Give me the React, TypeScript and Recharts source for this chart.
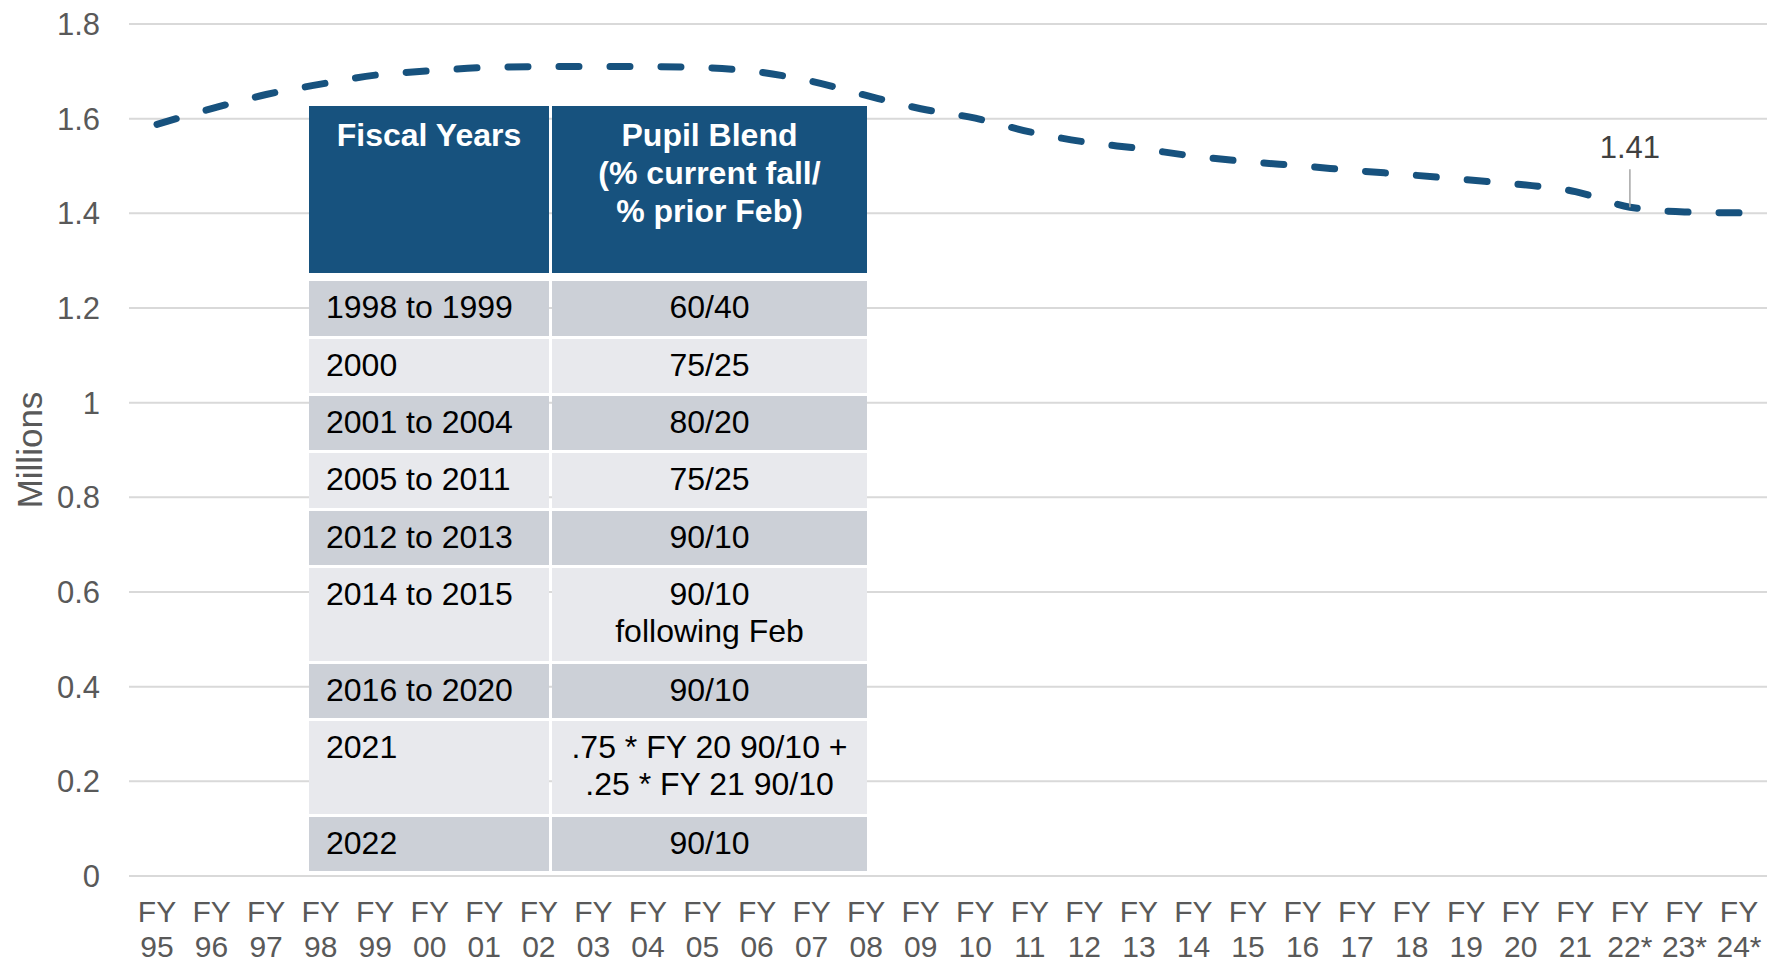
import { LineChart, Line, XAxis, YAxis, CartesianGrid, LabelList } from "recharts";

// fiscal years on the category axis, "FY 22*" onward are projections
const categories = [
  "FY 95", "FY 96", "FY 97", "FY 98", "FY 99", "FY 00", "FY 01", "FY 02", "FY 03", "FY 04",
  "FY 05", "FY 06", "FY 07", "FY 08", "FY 09", "FY 10", "FY 11", "FY 12", "FY 13", "FY 14",
  "FY 15", "FY 16", "FY 17", "FY 18", "FY 19", "FY 20", "FY 21", "FY 22*", "FY 23*", "FY 24*",
];

// pupils, millions
const pupils = [
  1.588, 1.621, 1.651, 1.673, 1.692, 1.701, 1.708, 1.71, 1.71, 1.71,
  1.708, 1.699, 1.679, 1.649, 1.621, 1.601, 1.572, 1.551, 1.537, 1.521,
  1.509, 1.5, 1.49, 1.481, 1.471, 1.461, 1.446, 1.413, 1.403, 1.401,
];

const yTicks = [0, 0.2, 0.4, 0.6, 0.8, 1, 1.2, 1.4, 1.6, 1.8];
const labelledCategory = "FY 22*";

const tableHeaders = ["Fiscal Years", "Pupil Blend\n(% current fall/\n% prior Feb)"];
const tableYears = [
  "1998 to 1999", "2000", "2001 to 2004", "2005 to 2011", "2012 to 2013",
  "2014 to 2015", "2016 to 2020", "2021", "2022",
];
const tableBlends = [
  "60/40", "75/25", "80/20", "75/25", "90/10",
  "90/10\nfollowing Feb", "90/10", ".75 * FY 20 90/10 +\n.25 * FY 21 90/10", "90/10",
];

const data = categories.map((cat, i) => ({ cat, v: pupils[i] }));

const FONT = '"Liberation Sans", Arial, sans-serif';
const BLUE = "#17527E";
const TICK = "#595959";

function FyTick({ x, y, payload }: any) {
  const [a, b] = String(payload.value).split(" ");
  return (
    <text x={x} y={y} textAnchor="middle" fill={TICK} fontSize={30} fontFamily={FONT}>
      <tspan x={x} dy={46}>{a}</tspan>
      <tspan x={x} dy={35}>{b}</tspan>
    </text>
  );
}

function CalloutLabel(props: any) {
  const { x, y, value, index } = props;
  if (categories[index] !== labelledCategory) return null;
  return (
    <g>
      <line x1={x} x2={x} y1={y - 38} y2={y} stroke="#A6A6A6" strokeWidth={1.5} />
      <text x={x} y={y - 49} textAnchor="middle" fill="#404040" fontSize={31} fontFamily={FONT}>
        {Number(value).toFixed(2)}
      </text>
    </g>
  );
}

function MillionsLabel(props: any) {
  const vb = props.viewBox || { x: 0, y: 24, width: 129, height: 852 };
  const cx = 42;
  const cy = vb.y + vb.height / 2;
  return (
    <text x={cx} y={cy} transform={`rotate(-90, ${cx}, ${cy})`} textAnchor="middle" fill={TICK} fontSize={35} fontFamily={FONT}>
      Millions
    </text>
  );
}

function BlendTable() {
  const cell = {
    boxSizing: "border-box" as const,
    whiteSpace: "pre-line" as const,
    fontSize: 32,
    lineHeight: "37px",
    color: "#000",
    paddingTop: 8,
  };
  return (
    <div style={{ position: "absolute", left: 309, top: 106, width: 558, fontFamily: FONT }}>
      <div style={{ display: "flex", gap: 3, height: 167 }}>
        {tableHeaders.map((h, i) => (
          <div
            key={h}
            style={{
              ...cell,
              width: i === 0 ? 240 : 315,
              background: BLUE,
              color: "#fff",
              fontWeight: 700,
              textAlign: "center",
              lineHeight: "38px",
              paddingTop: 10,
            }}
          >
            {h}
          </div>
        ))}
      </div>
      {tableYears.map((yr, i) => {
        const bg = i % 2 === 0 ? "#CCD0D7" : "#E8E9ED";
        const h = tableBlends[i].includes("\n") ? 93 : 54.3;
        return (
          <div key={yr} style={{ display: "flex", gap: 3, height: h, marginTop: i === 0 ? 8.4 : 3 }}>
            <div style={{ ...cell, width: 240, background: bg, paddingLeft: 17 }}>{yr}</div>
            <div style={{ ...cell, width: 315, background: bg, textAlign: "center" }}>{tableBlends[i]}</div>
          </div>
        );
      })}
    </div>
  );
}

export default function App() {
  return (
    <div style={{ position: "absolute", left: 0, top: 0, width: 1774, height: 965, fontFamily: FONT, background: "#fff" }}>
      <LineChart width={1774} height={965} data={data} margin={{ top: 24, right: 7, bottom: 0, left: 0 }}>
        <CartesianGrid vertical={false} stroke="#D9D9D9" strokeWidth={2} />
        <XAxis
          dataKey="cat"
          interval={0}
          height={89}
          axisLine={false}
          tickLine={false}
          tickSize={0}
          tickMargin={0}
          padding={{ left: 28, right: 28 }}
          tick={<FyTick />}
        />
        <YAxis
          width={129}
          domain={[0, 1.8]}
          ticks={yTicks}
          interval={0}
          axisLine={false}
          tickLine={false}
          tickSize={0}
          tickMargin={29}
          tickFormatter={(v: number) => String(+v.toFixed(1))}
          tick={{ fill: TICK, fontSize: 31, fontFamily: FONT }}
          label={{ content: (p: any) => <MillionsLabel {...p} /> }}
        />
        <Line
          dataKey="v"
          type="monotone"
          stroke={BLUE}
          strokeWidth={7}
          strokeDasharray="20 31"
          strokeLinecap="round"
          dot={false}
          isAnimationActive={false}
        >
          <LabelList dataKey="v" content={(p: any) => <CalloutLabel {...p} />} />
        </Line>
      </LineChart>
      <BlendTable />
    </div>
  );
}
